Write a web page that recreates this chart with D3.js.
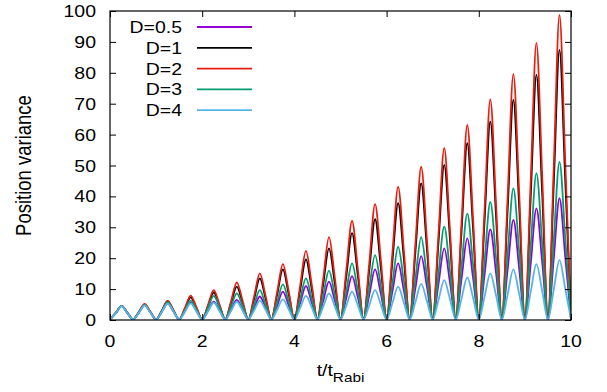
<!DOCTYPE html>
<html>
<head>
<meta charset="utf-8">
<script src="https://cdn.jsdelivr.net/npm/d3@7"></script>
<style>
  html, body { margin: 0; padding: 0; background: #fff; }
  svg { display: block; }
  text { font-family: "Liberation Sans", Arial, sans-serif; fill: #000; }
</style>
</head>
<body>
<svg id="chart" width="607" height="392"></svg>
<script>
// ---- data ----
const seriesNames = ["D=0.5", "D=1", "D=2", "D=3", "D=4"];
const seriesColors = ["#9400d3", "#000000", "#e51e10", "#009e73", "#56b4e9"];
const tStep = 0.125;            // sampling of t/t_Rabi
const xTicks = [0, 2, 4, 6, 8, 10];
const yTicks = [0, 10, 20, 30, 40, 50, 60, 70, 80, 90, 100];

const valuesD05 = [
  0.2, 2.2, 4.5, 2.3,  0.2, 2.4, 4.8, 2.5,  0.2, 2.7, 5.4, 2.8,  0.2, 2.8, 5.6, 2.9,
  0.2, 2.9, 5.9, 3.1,  0.2, 3.2, 6.5, 3.4,  0.2, 3.8, 7.6, 4.0,  0.2, 4.6, 9.2, 4.8,
  0.2, 5.5, 11.0, 5.7, 0.2, 6.2, 12.4, 6.4, 0.2, 7.1, 14.2, 7.4, 0.2, 8.2, 16.4, 8.5,
  0.2, 9.1, 18.3, 9.5, 0.2, 10.3, 20.7, 10.8, 0.2, 11.6, 23.2, 12.1, 0.2, 13.2, 26.4, 13.7,
  0.2, 14.6, 29.3, 15.2, 0.2, 16.2, 32.4, 16.8, 0.2, 18.0, 36.1, 18.8, 0.2, 19.7, 39.4, 20.5,
  0.2
];
const valuesD1 = [
  0.2, 2.3, 4.6, 2.4,  0.2, 2.5, 5.0, 2.6,  0.2, 3.0, 6.0, 3.1,  0.2, 3.6, 7.3, 3.8,
  0.2, 4.4, 8.9, 4.6,  0.2, 5.4, 10.8, 5.6, 0.2, 6.7, 13.5, 7.0, 0.2, 8.2, 16.4, 8.5,
  0.2, 9.8, 19.6, 10.2, 0.2, 11.6, 23.2, 12.1, 0.2, 14.0, 28.1, 14.6, 0.2, 16.3, 32.6, 17.0,
  0.2, 18.9, 37.8, 19.7, 0.2, 22.1, 44.2, 23.0, 0.2, 25.1, 50.2, 26.1, 0.2, 28.6, 57.2, 29.7,
  0.2, 32.1, 64.2, 33.4, 0.2, 35.6, 71.2, 37.0, 0.2, 39.6, 79.3, 41.2, 0.2, 43.7, 87.4, 45.4,
  0.2
];
const valuesD2 = [
  0.2, 2.3, 4.6, 2.4,  0.2, 2.6, 5.2, 2.7,  0.2, 3.1, 6.3, 3.3,  0.2, 3.9, 7.9, 4.1,
  0.2, 4.8, 9.7, 5.0,  0.2, 6.0, 12.2, 6.3, 0.2, 7.5, 15.1, 7.8, 0.2, 9.0, 18.1, 9.4,
  0.2, 11.1, 22.4, 11.6, 0.2, 13.3, 26.8, 13.9, 0.2, 16.0, 32.1, 16.6, 0.2, 18.6, 37.5, 19.5,
  0.2, 21.4, 43.1, 22.4, 0.2, 24.6, 49.6, 25.8, 0.2, 27.6, 55.6, 28.9, 0.2, 31.4, 63.1, 32.8,
  0.2, 35.5, 71.4, 37.1, 0.2, 39.6, 79.6, 41.4, 0.2, 44.6, 89.7, 46.6, 0.2, 49.1, 98.7, 51.3,
  0.2
];
const valuesD3 = [
  0.2, 2.2, 4.5, 2.3,  0.2, 2.4, 4.9, 2.5,  0.2, 2.9, 5.8, 3.0,  0.2, 3.1, 6.3, 3.3,
  0.2, 3.9, 7.8, 4.1,  0.2, 4.3, 8.6, 4.5,  0.2, 4.8, 9.7, 5.0,  0.2, 5.7, 11.5, 6.0,
  0.2, 6.7, 13.5, 7.0, 0.2, 8.0, 16.0, 8.3, 0.2, 9.1, 18.3, 9.5, 0.2, 10.5, 21.0, 10.9,
  0.2, 11.8, 23.7, 12.3, 0.2, 13.4, 26.8, 13.9, 0.2, 15.1, 30.2, 15.7, 0.2, 17.2, 34.4, 17.9,
  0.2, 19.1, 38.2, 19.9, 0.2, 21.3, 42.6, 22.2, 0.2, 23.7, 47.5, 24.7, 0.2, 25.6, 51.2, 26.6,
  0.2
];
const valuesD4 = [
  0.2, 2.2, 4.5, 2.3,  0.2, 2.3, 4.7, 2.4,  0.2, 2.6, 5.3, 2.8,  0.2, 2.7, 5.4, 2.8,
  0.2, 2.8, 5.6, 2.9,  0.2, 2.9, 5.9, 3.1,  0.2, 3.1, 6.3, 3.3,  0.2, 3.3, 6.7, 3.5,
  0.2, 3.9, 7.8, 4.1,  0.2, 4.3, 8.6, 4.5,  0.2, 4.6, 9.2, 4.8,  0.2, 4.8, 9.7, 5.0,
  0.2, 5.4, 10.8, 5.6, 0.2, 5.8, 11.7, 6.1, 0.2, 6.4, 12.9, 6.7, 0.2, 6.9, 13.8, 7.2,
  0.2, 7.5, 15.1, 7.9, 0.2, 8.2, 16.4, 8.5, 0.2, 9.0, 18.1, 9.4, 0.2, 9.7, 19.4, 10.1,
  0.2
];
const seriesValues = [valuesD05, valuesD1, valuesD2, valuesD3, valuesD4];

// ---- layout ----
const svg = d3.select("#chart");
const plot = { left: 110, right: 571, top: 11, bottom: 320 };
const x = d3.scaleLinear().domain([0, 10]).range([plot.left, plot.right]);
const y = d3.scaleLinear().domain([0, 100]).range([plot.bottom, plot.top]);
const fontSize = 16.5;
const stretch = 1.18;   // glyphs in the reference are horizontally widened
const tickLen = 6;

// text helper: text placed at (px,py) with horizontal stretch
function label(parent, px, py, str, anchor, size) {
  return parent.append("text")
    .attr("transform", `translate(${px},${py}) scale(${stretch},1)`)
    .attr("text-anchor", anchor)
    .attr("font-size", size || fontSize)
    .text(str);
}

// clip
svg.append("defs").append("clipPath").attr("id", "clip")
  .append("rect").attr("x", plot.left).attr("y", plot.top)
  .attr("width", plot.right - plot.left).attr("height", plot.bottom - plot.top);

// curves
const line = d3.line()
  .x((d, i) => x(i * tStep))
  .y(d => y(d))
  .curve(d3.curveMonotoneX);

const curves = svg.append("g").attr("clip-path", "url(#clip)");
seriesValues.forEach((vals, si) => {
  curves.append("path")
    .attr("d", line(vals))
    .attr("fill", "none")
    .attr("stroke", seriesColors[si])
    .attr("stroke-width", 1.8)
    .attr("stroke-linejoin", "round");
});

// ticks (inward, mirrored) via d3 axes, labels drawn separately with stretch
const axB = d3.axisBottom(x).tickValues(xTicks).tickSizeInner(-tickLen).tickSizeOuter(0).tickFormat("");
const axT = d3.axisTop(x).tickValues(xTicks).tickSizeInner(-tickLen).tickSizeOuter(0).tickFormat("");
const axL = d3.axisLeft(y).tickValues(yTicks).tickSizeInner(-tickLen).tickSizeOuter(0).tickFormat("");
const axR = d3.axisRight(y).tickValues(yTicks).tickSizeInner(-tickLen).tickSizeOuter(0).tickFormat("");
function styleAxis(g) {
  g.select(".domain").remove();
  g.selectAll(".tick line").attr("stroke", "#000").attr("stroke-width", 1);
  g.selectAll(".tick text").remove();
}
svg.append("g").attr("transform", `translate(0,${plot.bottom})`).call(axB).call(styleAxis);
svg.append("g").attr("transform", `translate(0,${plot.top})`).call(axT).call(styleAxis);
svg.append("g").attr("transform", `translate(${plot.left},0)`).call(axL).call(styleAxis);
svg.append("g").attr("transform", `translate(${plot.right},0)`).call(axR).call(styleAxis);

const tickLabels = svg.append("g");
xTicks.forEach(v => label(tickLabels, x(v), 347, String(v), "middle"));
yTicks.forEach(v => label(tickLabels, 96, y(v) + 6, String(v), "end"));

// border
svg.append("rect")
  .attr("x", plot.left).attr("y", plot.top)
  .attr("width", plot.right - plot.left).attr("height", plot.bottom - plot.top)
  .attr("fill", "none").attr("stroke", "#000").attr("stroke-width", 1.2);

// axis titles
svg.append("text")
  .attr("transform", `translate(31,${(plot.top + plot.bottom) / 2}) scale(${stretch},1) rotate(-90)`)
  .attr("text-anchor", "middle")
  .attr("font-size", 18.5)
  .text("Position variance");

const xt = svg.append("text")
  .attr("transform", `translate(${(plot.left + plot.right) / 2},376) scale(${stretch},1)`)
  .attr("text-anchor", "middle")
  .attr("font-size", fontSize);
xt.append("tspan").text("t/t");
xt.append("tspan").attr("dy", 6).attr("font-size", 13).text("Rabi");

// legend
const legend = svg.append("g");
seriesNames.forEach((name, i) => {
  const ly = 27 + i * 20.8;
  label(legend, 182, ly + 6, name, "end");
  legend.append("line")
    .attr("x1", 197).attr("x2", 252)
    .attr("y1", ly).attr("y2", ly)
    .attr("stroke", seriesColors[i])
    .attr("stroke-width", 1.8);
});
</script>
</body>
</html>
